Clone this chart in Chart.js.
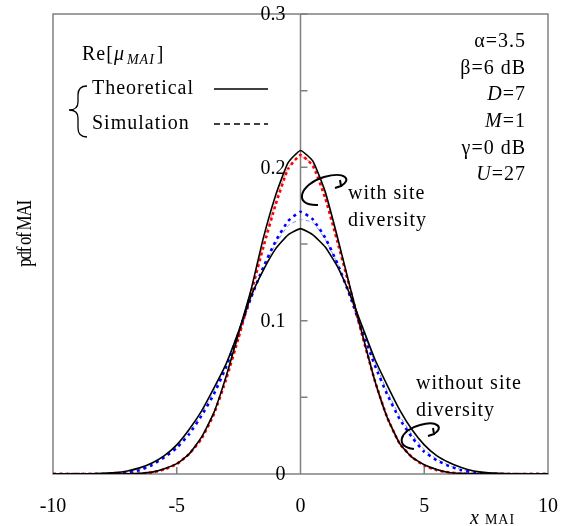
<!DOCTYPE html>
<html>
  <head>
    <title>pdf of MAI</title>
    <style>
      body {
        margin: 0;
        background: #fff;
      }
      .chart-container {
        position: relative;
        width: 566px;
        height: 526px;
      }
    </style>
  </head>
  <body>
    <div class="chart-container">
      <canvas id="pdf-chart" width="566" height="526"></canvas>
    </div>

    <script src="https://cdn.jsdelivr.net/npm/chart.js"></script>
    <script>
      // x grid of the curves (x_MAI)
      var xs = [-10, -9.5, -9, -8.5, -8, -7.5, -7, -6.5, -6, -5.5, -5, -4.5, -4, -3.5, -3, -2.5, -2, -1.5, -1, -0.5, 0,
        0.5, 1, 1.5, 2, 2.5, 3, 3.5, 4, 4.5, 5, 5.5, 6, 6.5, 7, 7.5, 8, 8.5, 9, 9.5, 10]

      // Theoretical, without site diversity
      var theoWithout = [0, 0, 0, 0.0001, 0.0004, 0.0009, 0.002, 0.004, 0.0072, 0.012, 0.019, 0.029, 0.041, 0.056, 0.072, 0.093, 0.116, 0.133, 0.147, 0.156, 0.160,
        0.156, 0.148, 0.135, 0.117, 0.096, 0.075, 0.058, 0.042, 0.029, 0.019, 0.012, 0.0075, 0.0042, 0.002, 0.0009, 0.0004, 0.0001, 0, 0, 0]

      // Theoretical, with site diversity
      var theoWith = [0, 0, 0, 0, 0, 0, 0.0001, 0.0004, 0.0012, 0.0035, 0.0068, 0.013, 0.024, 0.040, 0.064, 0.092, 0.120, 0.154, 0.182, 0.203, 0.211,
        0.204, 0.184, 0.154, 0.122, 0.091, 0.061, 0.037, 0.020, 0.011, 0.006, 0.003, 0.001, 0.0004, 0.0001, 0, 0, 0, 0, 0, 0]

      // Simulation, with site diversity
      var simWith = [0, 0, 0, 0, 0, 0, 0, 0.0002, 0.001, 0.003, 0.0065, 0.013, 0.023, 0.039, 0.062, 0.089, 0.118, 0.148, 0.176, 0.199, 0.208,
        0.201, 0.180, 0.151, 0.121, 0.090, 0.061, 0.037, 0.020, 0.011, 0.0055, 0.0025, 0.001, 0.0002, 0, 0, 0, 0, 0, 0, 0]
      var simWith2 = [0, 0, 0, 0, 0, 0, 0, 0.0003, 0.0012, 0.0032, 0.0068, 0.0135, 0.0235, 0.0395, 0.063, 0.090, 0.119, 0.150, 0.178, 0.200, 0.207,
        0.202, 0.182, 0.152, 0.121, 0.090, 0.062, 0.038, 0.021, 0.0115, 0.006, 0.003, 0.0012, 0.0003, 0, 0, 0, 0, 0, 0, 0]

      // Simulation, without site diversity
      var simWithout = [0, 0, 0, 0, 0, 0.0003, 0.0009, 0.0025, 0.0058, 0.011, 0.017, 0.026, 0.038, 0.052, 0.070, 0.092, 0.115, 0.135, 0.152, 0.165, 0.171,
        0.166, 0.154, 0.137, 0.116, 0.093, 0.071, 0.052, 0.036, 0.024, 0.0145, 0.009, 0.0052, 0.0025, 0.001, 0.0003, 0, 0, 0, 0, 0]
      var simWithout2 = [0, 0, 0, 0, 0, 0.0004, 0.0011, 0.0028, 0.0062, 0.0115, 0.018, 0.027, 0.039, 0.054, 0.072, 0.093, 0.115, 0.134, 0.150, 0.162, 0.166,
        0.164, 0.153, 0.137, 0.117, 0.095, 0.073, 0.054, 0.038, 0.026, 0.016, 0.0098, 0.0056, 0.0028, 0.0011, 0.0003, 0, 0, 0, 0, 0]

      var xTicks = [-10, -5, 0, 5, 10]
      var yTicks = [0, 0.1, 0.2, 0.3]

      var SERIF = "'Liberation Serif', 'DejaVu Serif', serif"

      function pts(arr) {
        return xs.map(function (x, i) {
          return { x: x, y: arr[i] }
        })
      }

      function line(label, arr, color, width, dash) {
        return {
          label: label,
          data: pts(arr),
          borderColor: color,
          borderWidth: width,
          borderDash: dash || [],
          pointRadius: 0,
          tension: 0.15,
          fill: false,
        }
      }

      // draw a row of text pieces with different fonts
      function runs(ctx, parts, x, y, align) {
        var total = 0
        parts.forEach(function (p) {
          ctx.font = p.font
          total += ctx.measureText(p.t).width + (p.gap || 0)
        })
        var cx = align === "right" ? x - total : x
        ctx.textAlign = "left"
        ctx.textBaseline = "alphabetic"
        parts.forEach(function (p) {
          ctx.font = p.font
          ctx.fillText(p.t, cx, y + (p.dy || 0))
          cx += ctx.measureText(p.t).width + (p.gap || 0)
        })
      }

      function curlArrow(ctx, p) {
        ctx.beginPath()
        ctx.moveTo(p[0], p[1])
        ctx.bezierCurveTo(p[2], p[3], p[4], p[5], p[6], p[7])
        ctx.bezierCurveTo(p[8], p[9], p[10], p[11], p[12], p[13])
        ctx.stroke()
        // hook head
        ctx.beginPath()
        ctx.moveTo(p[12] - 6, p[13] + 2)
        ctx.lineTo(p[12], p[13])
        ctx.lineTo(p[12] - 1, p[13] - 6)
        ctx.stroke()
      }

      var decor = {
        id: "decor",
        beforeDatasetsDraw: function (chart) {
          var ctx = chart.ctx
          var a = chart.chartArea
          var sx = chart.scales.x
          var sy = chart.scales.y
          ctx.save()
          ctx.strokeStyle = "#808080"
          ctx.lineWidth = 1.5
          ctx.strokeRect(a.left, a.top, a.right - a.left, a.bottom - a.top)
          var x0 = sx.getPixelForValue(0)
          ctx.beginPath()
          ctx.moveTo(x0, a.top)
          ctx.lineTo(x0, a.bottom)
          // inward ticks on the centre axis
          for (var v = 0.05; v <= 0.3001; v += 0.05) {
            var py = sy.getPixelForValue(v)
            ctx.moveTo(x0, py)
            ctx.lineTo(x0 + 7, py)
          }
          ;[-5, 5].forEach(function (t) {
            var px = sx.getPixelForValue(t)
            ctx.moveTo(px, a.bottom)
            ctx.lineTo(px, a.bottom - 7)
          })
          ctx.stroke()

          // y tick labels, left of the centre axis
          ctx.fillStyle = "#000"
          ctx.font = "20px " + SERIF
          ctx.textAlign = "right"
          ctx.textBaseline = "middle"
          yTicks.forEach(function (t) {
            ctx.fillText(t === 0 ? "0" : t.toFixed(1), x0 - 15, sy.getPixelForValue(t) + 1)
          })
          ctx.restore()
        },
        afterDatasetsDraw: function (chart) {
          var ctx = chart.ctx
          ctx.save()
          ctx.fillStyle = "#000"
          ctx.strokeStyle = "#000"
          var f = "20px " + SERIF
          var fi = "italic 20px " + SERIF
          var fs = "italic 14px " + SERIF
          ctx.letterSpacing = "1px"

          // legend block
          runs(ctx, [{ t: "Re[", font: f }, { t: "\u03bc", font: fi, gap: 2 }, { t: "MAI", font: fs, dy: 4, gap: 2 }, { t: "]", font: f }], 82, 60)
          runs(ctx, [{ t: "Theoretical", font: f }], 92, 94)
          runs(ctx, [{ t: "Simulation", font: f }], 92, 129)
          ctx.lineWidth = 1.5
          ctx.beginPath()
          ctx.moveTo(214, 89)
          ctx.lineTo(268, 89)
          ctx.stroke()
          ctx.setLineDash([6, 4])
          ctx.beginPath()
          ctx.moveTo(214, 124)
          ctx.lineTo(268, 124)
          ctx.stroke()
          ctx.setLineDash([])

          // brace
          ctx.lineWidth = 1.3
          ctx.beginPath()
          ctx.moveTo(87, 86)
          ctx.quadraticCurveTo(78, 86, 78, 95)
          ctx.lineTo(78, 102)
          ctx.quadraticCurveTo(78, 110, 69, 110)
          ctx.quadraticCurveTo(78, 110, 78, 118)
          ctx.lineTo(78, 128)
          ctx.quadraticCurveTo(78, 137, 87, 137)
          ctx.stroke()

          // parameters
          var R = 526
          runs(ctx, [{ t: "\u03b1=3.5", font: f }], R, 47, "right")
          runs(ctx, [{ t: "\u03b2=6 dB", font: f }], R, 74, "right")
          runs(ctx, [{ t: "D", font: fi }, { t: "=7", font: f }], R, 100, "right")
          runs(ctx, [{ t: "M", font: fi }, { t: "=1", font: f }], R, 127, "right")
          runs(ctx, [{ t: "\u03b3=0 dB", font: f }], R, 154, "right")
          runs(ctx, [{ t: "U", font: fi }, { t: "=27", font: f }], R, 180, "right")

          // curve annotations
          runs(ctx, [{ t: "with site", font: f }], 348, 199)
          runs(ctx, [{ t: "diversity", font: f }], 348, 226)
          runs(ctx, [{ t: "without site", font: f }], 416, 389)
          runs(ctx, [{ t: "diversity", font: f }], 416, 416)

          ctx.lineWidth = 2
          curlArrow(ctx, [318, 205, 292, 206, 300, 184, 324, 177, 346, 171, 352, 180, 341, 186])
          curlArrow(ctx, [414, 449, 394, 447, 400, 430, 420, 425, 438, 420, 444, 428, 434, 434])

          // axis titles
          runs(ctx, [{ t: "x", font: fi, gap: 5 }, { t: "MAI", font: "14px " + SERIF }], 470, 524)
          ctx.translate(31, 234)
          ctx.rotate(-Math.PI / 2)
          ctx.scale(0.85, 1)
          ctx.letterSpacing = "-1.5px"
          ctx.font = f
          ctx.textAlign = "center"
          ctx.fillText("pdf of MAI", 0, 0)
          ctx.restore()
        },
      }

      var config = {
        type: "line",
        data: {
          datasets: [
            line("Theoretical (with site diversity)", theoWith, "#000000", 1.6),
            line("Theoretical (without site diversity)", theoWithout, "#000000", 1.6),
            line("Simulation (with site diversity)", simWith, "#ff0000", 2.6, [3, 3]),
            line("Simulation (without site diversity)", simWithout, "#0000ff", 2.6, [3, 4]),
            line("Simulation 2 (with site diversity)", simWith2, "#ff8080", 1, [4, 3]),
            line("Simulation 2 (without site diversity)", simWithout2, "#7f8fff", 1, [4, 3]),
          ],
        },
        options: {
          responsive: false,
          animation: false,
          layout: { padding: { left: 53, right: 18, top: 14, bottom: 0 } },
          plugins: { legend: { display: false }, tooltip: { enabled: false } },
          scales: {
            x: {
              type: "linear",
              position: "bottom",
              min: -10,
              max: 10,
              grid: { display: false },
              border: { display: false },
              afterBuildTicks: function (s) {
                s.ticks = xTicks.map(function (v) {
                  return { value: v }
                })
              },
              afterFit: function (s) {
                s.height = 52
                s.paddingLeft = 0
                s.paddingRight = 0
              },
              ticks: { padding: 13, color: "#000", font: { family: SERIF, size: 20 } },
            },
            y: {
              type: "linear",
              position: { x: 0 },
              min: 0,
              max: 0.3,
              grid: { display: false },
              border: { display: false },
              afterBuildTicks: function (s) {
                s.ticks = yTicks.map(function (v) {
                  return { value: v }
                })
              },
              ticks: { display: false },
            },
          },
        },
        plugins: [decor],
      }

      var ctx = document.getElementById("pdf-chart").getContext("2d")
      new Chart(ctx, config)
    </script>
  </body>
</html>
